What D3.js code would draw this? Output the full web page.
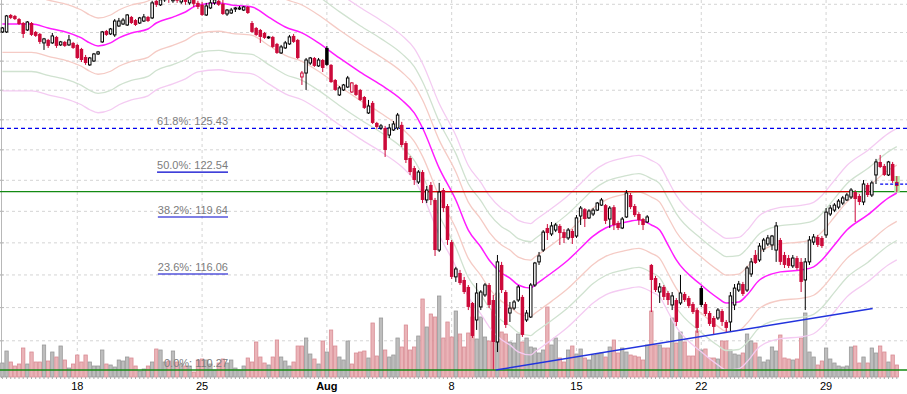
<!DOCTYPE html>
<html>
<head>
<meta charset="utf-8">
<script src="https://cdn.jsdelivr.net/npm/d3@7"></script>
<style>
  body { margin: 0; background: #fff; }
  svg { display: block; font-family: "Liberation Sans", Arial, sans-serif; }
</style>
</head>
<body>
<div id="chart"></div>
<script>
// price bars, one per 4-hour session
const opens = [
  132.04,132.04,133.24,133.17,132.95,132.67,132.18,132.67,132.04,131.90,
  131.27,131.48,131.27,131.69,131.13,131.34,131.13,131.27,131.13,130.85,
  130.29,129.74,130.01,130.50,131.34,132.11,131.90,131.83,132.46,132.60,
  132.53,133.10,132.88,132.67,132.81,133.10,133.03,134.25,133.96,134.32,
  134.54,134.25,134.61,134.17,134.47,134.10,134.39,134.10,133.96,133.24,
  133.74,134.10,134.25,134.03,133.31,133.38,133.66,133.66,133.59,133.81,
  132.67,132.32,132.18,131.97,131.62,131.69,131.20,130.57,130.92,131.20,
  131.76,131.48,128.91,129.18,129.87,130.22,129.67,130.08,130.92,129.74,
  128.70,127.68,128.02,128.22,127.88,128.36,128.02,127.54,126.46,127.14,
  125.79,125.45,125.45,124.98,125.32,125.45,125.66,124.45,123.46,122.80,
  121.89,122.54,120.73,121.70,120.73,117.55,121.37,120.34,118.05,115.88,
  116.12,115.69,115.26,114.28,113.25,114.04,114.77,115.38,114.46,111.93,
  116.62,114.95,113.67,113.97,114.46,114.65,113.25,113.43,115.38,116.81,
  117.55,118.94,118.56,118.81,119.07,118.68,118.31,118.75,118.43,119.70,
  120.14,119.58,119.83,120.08,120.40,120.40,119.51,120.27,119.26,118.94,
  119.64,121.05,120.34,119.83,119.51,119.32,116.62,115.81,114.95,115.26,
  114.89,114.16,114.46,114.28,114.83,114.58,114.22,113.85,115.19,114.22,
  113.67,113.37,113.37,113.79,113.13,113.13,114.16,115.07,115.44,115.07,
  116.06,117.24,116.93,117.61,117.93,117.87,117.55,118.18,117.24,117.05,
  116.56,117.05,116.81,115.69,116.81,118.05,118.37,118.31,118.50,119.83,
  120.08,120.27,120.53,120.73,120.92,121.24,120.99,120.60,121.70,121.05,
  122.35,123.20,122.94,122.35,123.07,121.89
];
const highs = [
  132.39,133.24,133.31,133.24,133.03,132.74,132.81,132.74,132.11,131.97,
  131.62,131.55,131.97,131.76,131.41,131.41,131.83,131.34,131.20,130.92,
  130.43,130.29,130.57,130.71,132.11,132.18,132.32,132.95,133.03,133.03,
  133.31,133.17,132.95,133.10,133.31,133.17,134.25,134.54,134.47,134.69,
  134.69,134.80,134.69,134.61,134.61,134.54,134.54,134.25,134.17,134.10,
  134.47,134.61,134.54,134.32,133.66,133.74,133.81,133.88,133.88,133.88,
  132.81,132.39,132.25,132.04,131.76,131.76,131.27,131.13,131.41,131.83,
  131.90,131.55,129.32,130.22,130.29,130.29,130.22,130.15,131.06,129.80,
  128.77,128.29,128.43,128.98,128.56,128.43,128.09,127.61,127.34,127.27,
  125.86,125.72,125.59,125.72,125.92,126.46,125.86,124.58,123.59,122.94,
  122.67,122.67,121.63,121.89,120.86,121.83,121.50,120.47,118.18,116.50,
  116.31,115.88,115.38,114.34,115.50,115.07,115.50,115.50,114.77,117.24,
  116.81,115.07,114.34,114.46,115.38,114.77,113.85,115.50,116.81,117.43,
  118.81,119.19,119.32,119.26,119.19,118.87,118.94,118.87,119.76,120.34,
  120.21,120.14,120.21,120.60,120.86,120.47,120.34,120.40,119.39,119.64,
  121.37,121.18,120.47,119.95,119.58,119.76,116.68,115.94,115.50,115.38,
  115.01,114.95,114.58,116.00,114.95,114.71,114.34,113.97,115.32,114.34,
  113.79,113.49,113.97,113.91,113.25,114.95,115.44,115.63,115.57,116.56,
  117.05,117.55,117.99,118.31,118.50,118.50,119.32,118.31,117.43,117.24,
  117.24,117.18,117.05,117.05,118.43,118.56,118.50,118.43,120.21,120.40,
  120.53,120.79,120.99,121.18,121.50,121.37,121.12,122.02,121.83,121.96,
  123.40,123.66,123.07,123.27,123.20,122.28
];
const lows = [
  131.97,131.97,132.95,132.88,132.53,131.62,132.11,131.76,131.69,131.20,
  130.78,130.92,131.20,130.92,131.06,130.99,131.06,130.85,130.15,129.94,
  129.74,129.67,129.94,130.43,131.27,131.76,131.83,131.69,132.39,132.53,
  132.46,132.60,132.46,132.60,132.74,132.74,132.95,133.81,133.88,134.17,
  134.10,134.10,134.10,134.03,133.96,133.96,133.81,133.66,133.17,133.17,
  133.66,133.96,133.88,133.24,133.17,133.31,133.45,133.59,133.52,133.31,
  131.97,131.76,131.27,131.55,131.55,130.92,130.50,130.50,130.85,131.13,
  131.27,130.15,128.36,128.02,129.74,129.60,129.60,129.25,129.67,128.50,
  127.95,127.61,127.95,128.16,127.82,127.61,127.27,126.73,126.39,125.72,
  125.39,125.32,123.53,124.78,125.25,125.32,124.19,123.13,122.35,121.70,
  121.76,120.53,120.53,120.40,117.18,117.43,119.95,117.87,115.75,115.57,
  115.38,114.83,113.85,112.17,112.65,113.85,114.65,113.97,110.27,111.33,
  114.89,112.77,113.13,113.85,114.34,112.23,113.13,113.37,115.26,116.62,
  117.43,118.18,118.43,118.68,117.87,117.99,118.18,117.93,118.31,119.13,
  119.00,119.51,119.70,120.02,120.34,119.19,118.94,118.81,118.81,118.87,
  119.58,120.14,119.64,119.13,118.81,119.26,113.73,114.95,114.28,114.46,
  114.16,113.85,112.89,114.16,114.34,113.97,113.61,112.47,114.04,113.49,
  112.89,112.35,113.25,112.89,112.53,112.53,113.85,114.95,114.71,114.95,
  115.88,116.68,116.81,117.43,117.80,117.55,116.81,116.62,116.43,116.43,
  116.43,116.31,114.95,113.85,116.62,117.87,117.74,117.68,118.31,119.70,
  119.95,120.14,120.40,120.66,120.79,119.32,120.40,120.40,120.92,120.92,
  121.76,122.80,122.28,122.28,121.83,121.24
];
const closes = [
  132.32,133.17,133.03,132.95,132.60,131.90,132.74,131.83,131.76,131.34,
  131.55,131.06,131.76,131.06,131.34,131.06,131.48,130.92,130.22,130.08,
  129.87,130.22,130.50,130.64,132.04,131.83,132.25,132.81,132.81,132.88,
  133.24,132.67,132.53,133.03,133.10,132.81,134.10,133.96,134.32,134.54,
  134.32,134.61,134.25,134.47,134.17,134.39,134.03,133.81,133.24,133.88,
  134.10,134.32,133.96,133.31,133.59,133.59,133.74,133.74,133.81,133.38,
  132.04,131.83,131.69,131.62,131.69,130.99,130.57,130.99,131.27,131.69,
  131.34,130.22,129.18,130.08,130.22,129.67,130.08,129.53,129.74,128.56,
  128.02,128.16,128.36,128.84,128.50,127.68,127.34,126.80,126.93,125.79,
  125.52,125.59,123.99,125.45,125.72,126.32,124.32,123.33,122.54,122.02,
  122.54,120.73,121.37,120.73,117.55,121.24,120.21,118.18,115.88,116.37,
  115.50,114.95,114.04,112.29,114.89,114.95,115.38,114.16,111.93,116.81,
  115.07,112.95,113.97,114.34,115.26,112.35,113.67,115.38,116.74,117.18,
  118.68,118.62,119.07,119.13,118.62,118.31,118.81,118.31,119.58,120.21,
  119.51,120.02,120.08,120.53,120.73,119.39,120.21,119.13,118.94,119.51,
  121.18,120.27,119.76,119.45,119.13,119.64,115.69,115.07,115.26,114.65,
  114.46,114.71,113.13,114.89,114.46,114.10,113.73,112.77,114.16,113.61,
  113.01,112.83,113.85,113.13,112.77,114.71,115.19,115.44,114.83,116.43,
  116.81,116.74,117.80,118.18,118.31,118.43,119.07,116.81,116.62,116.56,
  117.05,116.43,115.57,116.81,118.18,118.37,117.87,117.80,119.95,120.21,
  120.40,120.66,120.86,121.05,121.37,120.79,120.60,121.76,121.05,121.83,
  123.20,122.87,122.35,123.20,121.96,121.63
];
const volumes = [
  14,26,15,11,13,29,13,25,15,15,32,16,25,20,31,17,9,13,22,15,
  22,15,11,11,27,13,12,10,17,16,20,19,11,6,8,11,15,28,27,15,
  16,26,15,13,11,11,5,17,18,17,13,7,14,18,14,17,9,7,11,19,
  15,35,20,14,12,20,37,20,16,11,15,31,31,39,23,18,13,36,25,47,
  31,20,17,36,13,24,25,26,19,54,21,59,27,20,22,39,30,52,27,30,
  41,78,50,63,60,81,39,55,40,66,43,30,44,60,38,60,40,36,67,84,
  45,43,35,34,43,35,39,30,29,24,27,70,32,39,19,15,27,31,23,28,
  19,17,22,23,24,20,30,37,24,29,25,22,21,20,17,32,66,32,32,29,
  29,59,34,45,35,21,21,46,27,28,19,19,18,36,36,27,23,22,24,43,
  36,34,20,15,17,30,26,42,19,18,17,18,39,64,25,20,12,16,29,18,
  14,11,10,11,30,31,14,20,14,29,24,31,25,15,22,12
];

// moving average
const maBars = [0,7,11,16,19,21,23,26,28,31,35,37,41,44,47,52,55,60,64,68,
  72,76,81,86,91,96,99,101,105,109,112,115,117,120,122,124,127,128,132,136,
  139,142,145,150,153,156,158,160,162,168,172,174,177,179,182,187,192,195,197,200,
  203,208,213,215];
const maValues = [132.60,132.60,132.32,131.97,131.62,131.27,131.06,131.27,131.62,131.97,
  132.25,132.67,133.09,133.45,133.95,134.10,133.95,133.81,133.09,132.39,
  131.97,131.27,130.22,129.25,128.36,127.34,126.46,125.45,122.80,120.73,
  118.81,117.74,116.93,116.12,115.81,115.38,115.19,115.38,116.12,116.93,
  117.68,118.43,118.94,119.32,119.45,119.13,118.81,117.87,116.93,115.38,
  114.58,114.28,114.34,114.77,115.69,116.19,116.31,116.50,116.93,117.87,
  118.81,119.77,120.86,121.18];
const envelopePcts = [0.015, 0.025, 0.035];

const tickBars = [18, 48, 78, 108, 138, 168, 198];
const tickLabels = ["18", "25", "Aug", "8", "15", "22", "29"];

const fibNames = ["0.0%", "23.6%", "38.2%", "50.0%", "61.8%"];
const fibValues = [110.27, 116.06, 119.64, 122.54, 125.43];

const gridPrices = [112, 114, 116, 118, 120, 122, 124, 126, 128, 130, 132, 134];

const levelPrice = 121.27, levelFrom = 101, levelTo = 204;
const trendBars = [118.6, 209.2], trendPrices = [110.27, 113.95];
const lastMark = 121.75;

const width = 907, height = 394;
const svg = d3.select("#chart").append("svg")
    .attr("width", width)
    .attr("height", height);

const x = d3.scaleLinear().domain([0, 215]).range([2.4, 896.8]);
const y = d3.scaleLog().domain([110.27, 125.43]).range([370, 128.3]);
const vy = d3.scaleLinear().domain([0, 100]).range([377, 277]);
const step = x(1) - x(0);

const RED = "#cc0a3a";

// grid
svg.append("g").selectAll("line").data(gridPrices).enter().append("line")
    .attr("x1", 0).attr("x2", width)
    .attr("y1", d => y(d)).attr("y2", d => y(d))
    .attr("stroke", "#d4d4d4").attr("stroke-dasharray", "3,3");

svg.append("g").selectAll("line").data(tickBars).enter().append("line")
    .attr("x1", d => x(d)).attr("x2", d => x(d))
    .attr("y1", 0).attr("y2", 377)
    .attr("stroke", "#d4d4d4").attr("stroke-dasharray", "3,3");

// left axis
svg.append("line").attr("x1", 1.5).attr("x2", 1.5).attr("y1", 0).attr("y2", 378)
    .attr("stroke", "#b8b8b8");
svg.append("g").selectAll("line").data(gridPrices).enter().append("line")
    .attr("x1", 0).attr("x2", 4)
    .attr("y1", d => y(d)).attr("y2", d => y(d))
    .attr("stroke", "#b8b8b8");

const idx = d3.range(closes.length);
const isUp = i => i === 0 ? closes[i] >= opens[i] : closes[i] >= closes[i - 1];

// volume
svg.append("g").selectAll("rect").data(idx).enter().append("rect")
    .attr("x", i => x(i) - step / 2 + 0.4)
    .attr("width", step - 0.8)
    .attr("y", i => vy(volumes[i]))
    .attr("height", i => vy(0) - vy(volumes[i]))
    .attr("fill", i => isUp(i) ? "#bdbdbd" : "#eab4b8")
    .attr("stroke", i => isUp(i) ? "#9a9a9a" : "#d98c94")
    .attr("stroke-width", 0.8);

svg.append("g").selectAll("line").data(idx).enter().append("line")
    .attr("x1", i => x(i)).attr("x2", i => x(i))
    .attr("y1", 377).attr("y2", 379)
    .attr("stroke", "#aaa");

// envelopes + moving average
const maLine = f => d3.line()
    .x((d, k) => x(maBars[k]))
    .y(d => y(f(d)))
    .curve(d3.curveMonotoneX);

const bandColors = ["#f5cbc5", "#d0e2d0", "#f4cbf2"];
envelopePcts.forEach((p, k) => {
  [1 + p, 1 - p].forEach(m => {
    svg.append("path").datum(maValues)
        .attr("d", maLine(d => d * m))
        .attr("fill", "none")
        .attr("stroke", bandColors[k])
        .attr("stroke-width", 1.3);
  });
});

svg.append("path").datum(maValues)
    .attr("d", maLine(d => d))
    .attr("fill", "none")
    .attr("stroke", "#ff1cff")
    .attr("stroke-width", 1.5);

// horizontal levels
svg.append("line").attr("x1", 0).attr("x2", width)
    .attr("y1", y(levelPrice)).attr("y2", y(levelPrice))
    .attr("stroke", "#138a13").attr("stroke-width", 1.2);
svg.append("line").attr("x1", x(levelFrom)).attr("x2", x(levelTo))
    .attr("y1", y(levelPrice)).attr("y2", y(levelPrice))
    .attr("stroke", "#dd0000").attr("stroke-width", 1.2);

svg.append("line").attr("x1", 0).attr("x2", width)
    .attr("y1", y(fibValues[4])).attr("y2", y(fibValues[4]))
    .attr("stroke", "#0000ee").attr("stroke-width", 1.2)
    .attr("stroke-dasharray", "4,3");

// highlight of the last bar
const last = closes.length - 1;
svg.append("rect")
    .attr("x", x(last) - 2.5).attr("width", 5.5)
    .attr("y", y(highs[last])).attr("height", y(lows[last]) - y(highs[last]))
    .attr("fill", "#b6eeaa");

// candles
const candles = svg.append("g").selectAll("g").data(idx).enter().append("g");
candles.append("line")
    .attr("x1", i => x(i)).attr("x2", i => x(i))
    .attr("y1", i => y(highs[i])).attr("y2", i => y(lows[i]))
    .attr("stroke", i => isUp(i) ? "#000" : RED);
candles.append("rect")
    .attr("x", i => closes[i] > opens[i] ? x(i) - 1.25 : x(i) - 1.75)
    .attr("width", i => closes[i] > opens[i] ? 2.5 : 3.5)
    .attr("y", i => y(Math.max(opens[i], closes[i])))
    .attr("height", i => Math.max(1, Math.abs(y(opens[i]) - y(closes[i]))))
    .attr("fill", i => closes[i] > opens[i] ? "#fff" : (isUp(i) ? "#000" : RED))
    .attr("stroke", i => closes[i] > opens[i] ? (isUp(i) ? "#000" : RED) : "none")
    .attr("stroke-width", 1);

// 0% line and trend line
svg.append("line").attr("x1", 0).attr("x2", width)
    .attr("y1", y(fibValues[0])).attr("y2", y(fibValues[0]))
    .attr("stroke", "#138a13").attr("stroke-width", 1.5);

svg.append("line")
    .attr("x1", x(trendBars[0])).attr("y1", y(trendPrices[0]))
    .attr("x2", x(trendBars[1])).attr("y2", y(trendPrices[1]))
    .attr("stroke", "#2233dd").attr("stroke-width", 1.5);

svg.append("line").attr("x1", x(211)).attr("x2", width)
    .attr("y1", y(lastMark)).attr("y2", y(lastMark))
    .attr("stroke", "#0000ee").attr("stroke-width", 1.2)
    .attr("stroke-dasharray", "3,2");

// fibonacci labels
fibValues.forEach((val, k) => {
  const t = svg.append("text")
      .attr("x", 228).attr("y", y(val) - 3)
      .attr("text-anchor", "end")
      .attr("font-size", 11)
      .attr("fill", "#7c7c7c")
      .text(`${fibNames[k]}: ${val.toFixed(2)}`);
  if (k > 0 && k < 4) {
    const w = t.node().getComputedTextLength();
    svg.append("line").attr("x1", 228 - w).attr("x2", 228)
        .attr("y1", y(val)).attr("y2", y(val))
        .attr("stroke", "#0000cc").attr("stroke-width", 1.2);
  }
});

// date ticks
svg.append("g").selectAll("text").data(tickBars).enter().append("text")
    .attr("x", d => x(d)).attr("y", 390)
    .attr("text-anchor", "middle")
    .attr("font-size", 11)
    .attr("font-weight", (d, k) => tickLabels[k] === "Aug" ? "bold" : "normal")
    .attr("fill", "#000")
    .text((d, k) => tickLabels[k]);
</script>
</body>
</html>
